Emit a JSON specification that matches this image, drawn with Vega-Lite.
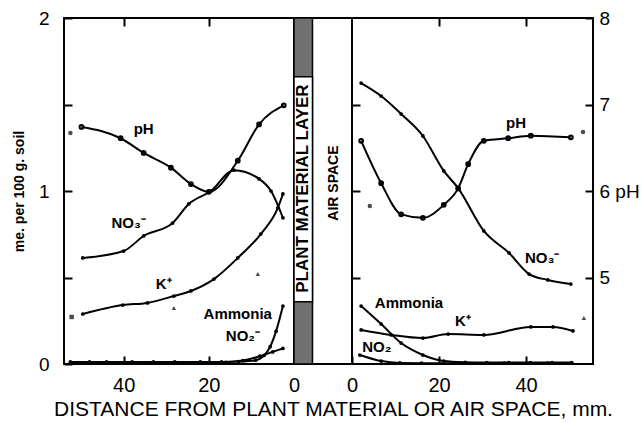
{
  "$schema": "https://vega.github.io/schema/vega-lite/v6.json",
  "background": "white",
  "padding": {"left": 11, "top": 8, "right": 0, "bottom": 0},
  "config": {
    "font": "Liberation Sans",
    "view": {"stroke": "black", "strokeWidth": 2},
    "axis": {"domain": false, "grid": false, "ticks": true, "tickColor": "black", "tickWidth": 2, "labelColor": "black", "titleColor": "black", "labelFlush": false, "labelOverlap": false, "labelBound": false},
    "text": {"font": "Liberation Sans"}
  },
  "spacing": 0,
  "bounds": "flush",
  "datasets": {
    "L_me": [
      {"series": "NO3", "mm": 49.6, "v": 0.613}, {"series": "NO3", "mm": 40, "v": 0.653}, {"series": "NO3", "mm": 35.3, "v": 0.74}, {"series": "NO3", "mm": 28.5, "v": 0.815}, {"series": "NO3", "mm": 24.7, "v": 0.925}, {"series": "NO3", "mm": 19.5, "v": 1.0}, {"series": "NO3", "mm": 14.1, "v": 1.12}, {"series": "NO3", "mm": 8.2, "v": 1.07}, {"series": "NO3", "mm": 5.4, "v": 1.0}, {"series": "NO3", "mm": 2.6, "v": 0.845},
      {"series": "K", "mm": 49.6, "v": 0.289}, {"series": "K", "mm": 40.2, "v": 0.341}, {"series": "K", "mm": 34.4, "v": 0.353}, {"series": "K", "mm": 28.2, "v": 0.393}, {"series": "K", "mm": 24.2, "v": 0.422}, {"series": "K", "mm": 18.8, "v": 0.491}, {"series": "K", "mm": 13.2, "v": 0.613}, {"series": "K", "mm": 7.8, "v": 0.751}, {"series": "K", "mm": 3.8, "v": 0.902}, {"series": "K", "mm": 2.6, "v": 0.983},
      {"series": "Ammonia", "mm": 52.5, "v": 0.012}, {"series": "Ammonia", "mm": 48, "v": 0.012}, {"series": "Ammonia", "mm": 44, "v": 0.012}, {"series": "Ammonia", "mm": 38, "v": 0.012}, {"series": "Ammonia", "mm": 33, "v": 0.012}, {"series": "Ammonia", "mm": 28, "v": 0.012}, {"series": "Ammonia", "mm": 22, "v": 0.012}, {"series": "Ammonia", "mm": 17, "v": 0.012}, {"series": "Ammonia", "mm": 13, "v": 0.014}, {"series": "Ammonia", "mm": 9, "v": 0.022}, {"series": "Ammonia", "mm": 7, "v": 0.05}, {"series": "Ammonia", "mm": 5.6, "v": 0.1}, {"series": "Ammonia", "mm": 4.2, "v": 0.19}, {"series": "Ammonia", "mm": 2.6, "v": 0.335},
      {"series": "NO2", "mm": 52.5, "v": 0.006}, {"series": "NO2", "mm": 45, "v": 0.006}, {"series": "NO2", "mm": 36, "v": 0.006}, {"series": "NO2", "mm": 27, "v": 0.006}, {"series": "NO2", "mm": 20, "v": 0.008}, {"series": "NO2", "mm": 16, "v": 0.01}, {"series": "NO2", "mm": 12, "v": 0.02}, {"series": "NO2", "mm": 8, "v": 0.045}, {"series": "NO2", "mm": 5, "v": 0.07}, {"series": "NO2", "mm": 2.6, "v": 0.09}
    ],
    "L_ph": [
      {"mm": 49.9, "ph": 6.74}, {"mm": 40.7, "ph": 6.61}, {"mm": 35.3, "ph": 6.44}, {"mm": 28.9, "ph": 6.27}, {"mm": 24.2, "ph": 6.08}, {"mm": 20, "ph": 5.99}, {"mm": 13.2, "ph": 6.35}, {"mm": 8.2, "ph": 6.77}, {"mm": 2.4, "ph": 6.99}
    ],
    "L_pts": [
      {"mm": 52.5, "v": 1.335, "shape": "circle"}, {"mm": 52.2, "v": 0.272, "shape": "square"}, {"mm": 28.2, "v": 0.324, "shape": "triangle-up"}, {"mm": 8.5, "v": 0.52, "shape": "triangle-up"}
    ],
    "L_lab": [
      {"text": "pH", "mm": 35.3, "v": 1.358}, {"text": "NO₃⁻", "mm": 38.8, "v": 0.815}, {"text": "K⁺", "mm": 30.6, "v": 0.462}, {"text": "Ammonia", "mm": 13.2, "v": 0.289}, {"text": "NO₂⁻", "mm": 12, "v": 0.162}
    ],
    "band": [
      {"part": "hatch", "x0": 0, "x1": 4.3, "y0": 0, "y1": 2},
      {"part": "box", "x0": 0, "x1": 4.3, "y0": 0.36, "y1": 1.66}
    ],
    "mid_text": [
      {"text": "PLANT MATERIAL LAYER", "x": 2.15, "v": 1.014, "kind": "plant"},
      {"text": "AIR SPACE", "x": 9.3, "v": 1.046, "kind": "air"}
    ],
    "R_me": [
      {"series": "NO3", "mm": 2.1, "v": 1.624}, {"series": "NO3", "mm": 6.7, "v": 1.549}, {"series": "NO3", "mm": 11.3, "v": 1.445}, {"series": "NO3", "mm": 16.3, "v": 1.318}, {"series": "NO3", "mm": 21.1, "v": 1.116}, {"series": "NO3", "mm": 24.4, "v": 1.017}, {"series": "NO3", "mm": 30.3, "v": 0.769}, {"series": "NO3", "mm": 36.1, "v": 0.642}, {"series": "NO3", "mm": 40.7, "v": 0.52}, {"series": "NO3", "mm": 45, "v": 0.486}, {"series": "NO3", "mm": 50.3, "v": 0.462},
      {"series": "K", "mm": 2.1, "v": 0.197}, {"series": "K", "mm": 9, "v": 0.168}, {"series": "K", "mm": 16.3, "v": 0.15}, {"series": "K", "mm": 22.1, "v": 0.173}, {"series": "K", "mm": 30.3, "v": 0.168}, {"series": "K", "mm": 41.1, "v": 0.214}, {"series": "K", "mm": 46.2, "v": 0.214}, {"series": "K", "mm": 50.8, "v": 0.191},
      {"series": "Ammonia", "mm": 2.1, "v": 0.335}, {"series": "Ammonia", "mm": 6.7, "v": 0.231}, {"series": "Ammonia", "mm": 11.3, "v": 0.121}, {"series": "Ammonia", "mm": 16.3, "v": 0.052}, {"series": "Ammonia", "mm": 21.1, "v": 0.017}, {"series": "Ammonia", "mm": 26, "v": 0.01}, {"series": "Ammonia", "mm": 31, "v": 0.008}, {"series": "Ammonia", "mm": 36, "v": 0.008}, {"series": "Ammonia", "mm": 41, "v": 0.008}, {"series": "Ammonia", "mm": 46, "v": 0.008}, {"series": "Ammonia", "mm": 50.5, "v": 0.008},
      {"series": "NO2", "mm": 1.8, "v": 0.052}, {"series": "NO2", "mm": 6.7, "v": 0.017}, {"series": "NO2", "mm": 11, "v": 0.006}, {"series": "NO2", "mm": 16, "v": 0.005}, {"series": "NO2", "mm": 25, "v": 0.005}, {"series": "NO2", "mm": 35, "v": 0.005}, {"series": "NO2", "mm": 45, "v": 0.005}, {"series": "NO2", "mm": 50.5, "v": 0.005}
    ],
    "R_ph": [
      {"mm": 2.1, "ph": 6.58}, {"mm": 6.7, "ph": 6.09}, {"mm": 11.3, "ph": 5.73}, {"mm": 16.3, "ph": 5.69}, {"mm": 21.1, "ph": 5.84}, {"mm": 24.4, "ph": 6.03}, {"mm": 26.7, "ph": 6.31}, {"mm": 30.3, "ph": 6.58}, {"mm": 35.9, "ph": 6.61}, {"mm": 41.1, "ph": 6.64}, {"mm": 50.3, "ph": 6.62}
    ],
    "R_pts": [
      {"mm": 53.1, "v": 1.341, "shape": "circle"}, {"mm": 53.3, "v": 0.266, "shape": "triangle-up"}, {"mm": 4.1, "v": 0.913, "shape": "circle"}
    ],
    "R_lab": [
      {"text": "pH", "mm": 37.7, "v": 1.393}, {"text": "NO₃⁻", "mm": 43.7, "v": 0.613}, {"text": "Ammonia", "mm": 13.1, "v": 0.353}, {"text": "K⁺", "mm": 25.5, "v": 0.249}, {"text": "NO₂", "mm": 5.7, "v": 0.098}
    ]
  },
  "hconcat": [
    {
      "width": 230,
      "height": 346,
      "layer": [
        {
          "data": {"name": "L_me"},
          "mark": {"type": "line", "interpolate": "monotone", "color": "black", "strokeWidth": 2, "point": {"filled": true, "color": "black", "size": 14}},
          "encoding": {
            "x": {"field": "mm", "type": "quantitative", "scale": {"domain": [0, 54], "reverse": true, "nice": false, "zero": false},
              "axis": {"orient": "bottom", "values": [20, 40, 0], "title": null, "offset": -8, "tickSize": 8, "labelPadding": 11, "labelFontSize": 20}},
            "y": {"field": "v", "type": "quantitative", "scale": {"domain": [0, 2], "nice": false},
              "axis": {"values": [0, 0.5, 1, 1.5, 2], "labelExpr": "datum.value % 1 == 0 ? format(datum.value, 'd') : ''", "offset": -8, "tickSize": 8, "labelPadding": 15, "labelFontSize": 19, "title": "me. per 100 g. soil", "titleFontSize": 14, "titleFontWeight": "bold", "titlePadding": 12}},
            "detail": {"field": "series"}
          }
        },
        {
          "data": {"name": "L_ph"},
          "mark": {"type": "line", "interpolate": "monotone", "color": "black", "strokeWidth": 2, "point": {"filled": false, "color": "black", "size": 14}},
          "encoding": {
            "x": {"field": "mm", "type": "quantitative", "scale": {"domain": [0, 54], "reverse": true, "nice": false, "zero": false},
              "axis": {"orient": "top", "values": [20, 40], "title": null, "offset": -8, "tickSize": 8, "labels": false}},
            "y": {"field": "ph", "type": "quantitative", "scale": {"domain": [4, 8], "nice": false}, "axis": null}
          }
        },
        {
          "data": {"name": "L_pts"},
          "mark": {"type": "point", "filled": true, "color": "black", "size": 20},
          "encoding": {
            "x": {"field": "mm", "type": "quantitative", "scale": {"domain": [0, 54], "reverse": true, "nice": false, "zero": false}, "axis": null},
            "y": {"field": "v", "type": "quantitative", "scale": {"domain": [0, 2], "nice": false}, "axis": null},
            "shape": {"field": "shape", "type": "nominal", "scale": null}
          }
        },
        {
          "data": {"name": "L_lab"},
          "mark": {"type": "text", "fontSize": 15, "fontWeight": "bold", "color": "black"},
          "encoding": {
            "x": {"field": "mm", "type": "quantitative", "scale": {"domain": [0, 54], "reverse": true, "nice": false, "zero": false}, "axis": null},
            "y": {"field": "v", "type": "quantitative", "scale": {"domain": [0, 2], "nice": false}, "axis": null},
            "text": {"field": "text"}
          }
        }
      ],
      "resolve": {"scale": {"x": "independent", "y": "independent"}}
    },
    {
      "width": 58,
      "height": 346,
      "layer": [
        {
          "data": {"name": "band"},
          "mark": {"type": "rect", "stroke": "black", "strokeWidth": 1.5},
          "encoding": {
            "x": {"field": "x0", "type": "quantitative", "scale": {"domain": [0, 13.5], "nice": false, "zero": false},
              "axis": {"title": "DISTANCE FROM PLANT MATERIAL OR AIR SPACE, mm.", "labels": false, "ticks": false, "titleFontSize": 21, "titleFontWeight": "normal", "titlePadding": 34, "titleX": 39}},
            "x2": {"field": "x1"},
            "y": {"field": "y0", "type": "quantitative", "scale": {"domain": [0, 2], "nice": false}, "axis": null},
            "y2": {"field": "y1"},
            "fill": {"field": "part", "type": "nominal", "scale": {"domain": ["hatch", "box"], "range": ["#707070", "white"]}, "legend": null}
          }
        },
        {
          "data": {"name": "mid_text"},
          "mark": {"type": "text", "angle": 270, "fontWeight": "bold", "color": "black"},
          "encoding": {
            "x": {"field": "x", "type": "quantitative"},
            "y": {"field": "v", "type": "quantitative"},
            "text": {"field": "text"},
            "size": {"field": "kind", "type": "nominal", "scale": {"domain": ["plant", "air"], "range": [17, 14]}, "legend": null}
          }
        }
      ]
    },
    {
      "width": 241,
      "height": 346,
      "layer": [
        {
          "data": {"name": "R_me"},
          "mark": {"type": "line", "interpolate": "monotone", "color": "black", "strokeWidth": 2, "point": {"filled": true, "color": "black", "size": 14}},
          "encoding": {
            "x": {"field": "mm", "type": "quantitative", "scale": {"domain": [0, 55.4], "nice": false, "zero": false},
              "axis": {"orient": "bottom", "values": [0, 20, 40], "title": null, "offset": -8, "tickSize": 8, "labelPadding": 11, "labelFontSize": 20}},
            "y": {"field": "v", "type": "quantitative", "scale": {"domain": [0, 2], "nice": false},
              "axis": {"values": [0.5, 1, 1.5], "labels": false, "offset": -8, "tickSize": 8, "title": null}},
            "detail": {"field": "series"}
          }
        },
        {
          "data": {"name": "R_ph"},
          "mark": {"type": "line", "interpolate": "monotone", "color": "black", "strokeWidth": 2, "point": {"filled": false, "color": "black", "size": 14}},
          "encoding": {
            "x": {"field": "mm", "type": "quantitative", "scale": {"domain": [0, 55.4], "nice": false, "zero": false},
              "axis": {"orient": "top", "values": [20, 40], "title": null, "offset": -8, "tickSize": 8, "labels": false}},
            "y": {"field": "ph", "type": "quantitative", "scale": {"domain": [4, 8], "nice": false},
              "axis": {"orient": "right", "values": [5, 6, 7, 8], "labelExpr": "datum.value == 6 ? '6  pH' : datum.label", "offset": -8, "tickSize": 8, "labelPadding": 6, "labelFontSize": 19, "title": null}}
          }
        },
        {
          "data": {"name": "R_pts"},
          "mark": {"type": "point", "filled": true, "color": "black", "size": 20},
          "encoding": {
            "x": {"field": "mm", "type": "quantitative", "scale": {"domain": [0, 55.4], "nice": false, "zero": false}, "axis": null},
            "y": {"field": "v", "type": "quantitative", "scale": {"domain": [0, 2], "nice": false}, "axis": null},
            "shape": {"field": "shape", "type": "nominal", "scale": null}
          }
        },
        {
          "data": {"name": "R_lab"},
          "mark": {"type": "text", "fontSize": 15, "fontWeight": "bold", "color": "black"},
          "encoding": {
            "x": {"field": "mm", "type": "quantitative", "scale": {"domain": [0, 55.4], "nice": false, "zero": false}, "axis": null},
            "y": {"field": "v", "type": "quantitative", "scale": {"domain": [0, 2], "nice": false}, "axis": null},
            "text": {"field": "text"}
          }
        }
      ],
      "resolve": {"scale": {"x": "independent", "y": "independent"}}
    }
  ]
}
